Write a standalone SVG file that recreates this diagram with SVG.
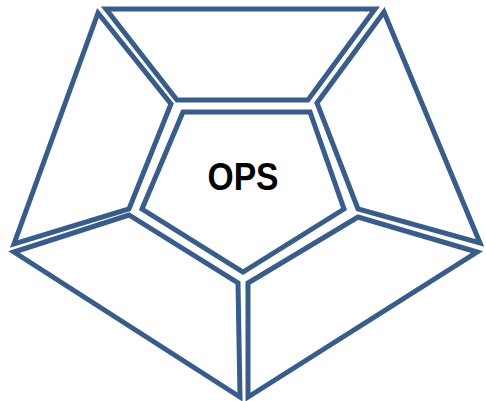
<svg xmlns="http://www.w3.org/2000/svg" width="486" height="401" viewBox="0 0 486 401">
<style>
.seg{fill:#fff;stroke:#385D8A;stroke-width:5;stroke-linejoin:miter}
.lbl{font-family:"Liberation Sans",Arial,sans-serif;font-weight:bold;font-size:38px;fill:#000}
</style>
<rect width="486" height="401" fill="#fff"/>
<g id="top"><polygon class="seg" points="106,9 375,9 308,100 177,100"/></g>
<g id="left"><polygon class="seg" points="98,13 171,104 129,209 14,244"/></g>
<g id="right"><polygon class="seg" points="384,12 317,103 358,209 480,243"/></g>
<g id="bottom-left"><polygon class="seg" points="14,252 129,215 238,283 240,397"/></g>
<g id="bottom-right"><polygon class="seg" points="477,252 358,217 248,283 248,397"/></g>
<g id="center"><polygon class="seg" points="183,112 310,112 344,209 243,272 142,209"/>
<text class="lbl" x="243" y="190" text-anchor="middle" textLength="71" lengthAdjust="spacingAndGlyphs">OPS</text></g>
<g id="connectors"></g>
</svg>
